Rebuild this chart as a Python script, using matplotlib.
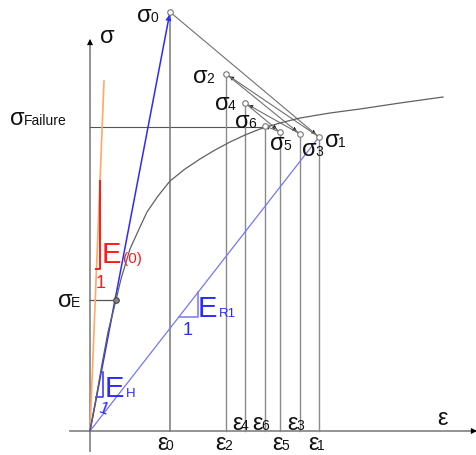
import matplotlib
matplotlib.use('Agg')
import matplotlib.pyplot as plt

plt.rcParams['font.family'] = ['Liberation Sans', 'DejaVu Sans']

# ---- data (strain / stress in drawing units, origin at 0,0) ----
eps0, sig0 = 8.0, 41.9                       # peak loading point sigma0 / eps0
# relaxation / reloading points sigma1 .. sigma6
relax_eps = [22.9, 13.6, 21.0, 15.5, 19.0, 17.5]
relax_sig = [29.4, 35.7, 29.7, 32.8, 29.9, 30.5]
relax_names = ['1', '2', '3', '4', '5', '6']

sigE_eps, sigE_sig = 2.6, 13.1               # elastic limit sigma_E
sig_failure = 30.4                           # failure stress level
E0_eps, E0_sig = 1.4, 35.0                   # tip of the initial-modulus line E(0)

# stress-strain curve
curve_eps = [0, 0.6, 1.2, 1.8, 2.6, 3.1, 4.0, 5.0, 5.7, 6.8, 8.0, 9.5, 11.0,
             12.5, 14.0, 15.5, 17.0, 19.0, 21.0, 24.0, 27.0, 31.0, 35.3]
curve_sig = [0, 3.2, 6.7, 9.9, 13.1, 15.2, 18.2, 20.4, 21.9, 23.5, 25.0, 26.2,
             27.2, 28.1, 28.9, 29.6, 30.2, 30.8, 31.3, 31.8, 32.2, 32.8, 33.4]

GRAY = '#8a8a8a'
DARK = '#555555'
BLUE = '#2b2bff'
LBLUE = '#7575ff'
ORANGE = '#ffa868'
RED = '#ff1a1a'

fig = plt.figure(figsize=(4.77, 4.56), dpi=100)
ax = fig.add_axes([0, 0, 1, 1])
ax.set_xlim(-9.0, 38.7)
ax.set_ylim(-2.4, 43.2)
ax.axis('off')
renderer = fig.canvas.get_renderer()


def label(x, y, main, sub, size=17, subsize=10, color='#111111', gap=-1.5):
    t = ax.text(x, y, main, fontsize=size, color=color, ha='left', va='baseline')
    bb = t.get_window_extent(renderer)
    yd = ax.transData.transform((x, y))[1]
    ax.annotate(sub, xy=(bb.x1 + gap, yd), xycoords='figure pixels',
                fontsize=subsize, color=color, ha='left', va='baseline')


def arrowhead(x0, y0, x1, y1, color='black', ms=9, shrink=2.5):
    ax.annotate('', xy=(x1, y1), xytext=(x0, y0),
                arrowprops=dict(arrowstyle='-|>', color=color, lw=0.01,
                                mutation_scale=ms, shrinkA=0, shrinkB=shrink))


# axes
ax.plot([-2.0, 38.5], [0, 0], color=GRAY, lw=1.3, zorder=2)
ax.plot([0, 0], [-2.0, 39.0], color=GRAY, lw=1.3, zorder=2)
arrowhead(37.0, 0, 38.7, 0, ms=11, shrink=0)
arrowhead(0, 37.5, 0, 39.2, ms=11, shrink=0)

# failure stress line
ax.plot([0, relax_eps[5]], [sig_failure, sig_failure], color=DARK, lw=0.8, zorder=2)

# vertical strain lines
ax.plot([eps0, eps0], [0, sig0], color='#777777', lw=1.1, zorder=2)
for e, s in zip(relax_eps, relax_sig):
    ax.plot([e, e], [0, s], color=GRAY, lw=1.0, zorder=2)

# sigma_E marker line
ax.plot([0, sigE_eps], [sigE_sig, sigE_sig], color=DARK, lw=0.9, zorder=3)

# initial modulus E(0)
ax.plot([0, E0_eps], [0, E0_sig], color=ORANGE, lw=1.2, zorder=3)
m0 = E0_sig / E0_eps
a, d = 0.65, 0.35
ax.plot([a, a + d, a + d], [m0 * a, m0 * a, m0 * (a + d)], color=RED, lw=1.4, zorder=4)

# loading line to sigma0
ax.plot([0, eps0], [0, sig0], color=BLUE, lw=1.1, zorder=3)
arrowhead(eps0 * 0.9, sig0 * 0.9, eps0, sig0, color=BLUE, ms=11, shrink=2)
mH = sig0 / eps0
a, d = 0.65, 0.65
ax.plot([a, a + d, a + d], [mH * a, mH * a, mH * (a + d) - 0.9], color=BLUE, lw=1.1, zorder=4)

# secant modulus E_R1
ax.plot([0, relax_eps[0]], [0, relax_sig[0]], color=LBLUE, lw=0.9, zorder=3)
mR = relax_sig[0] / relax_eps[0]
a, d = 8.88, 1.92
ax.plot([a, a + d, a + d], [mR * a, mR * a, mR * (a + d)], color=LBLUE, lw=1.1, zorder=4)

# stress-strain curve
ax.plot(curve_eps, curve_sig, color='#606060', lw=0.9, zorder=5)

# relaxation / reloading path sigma0 -> sigma1 -> ... -> sigma6
path_e = [eps0] + relax_eps
path_s = [sig0] + relax_sig
for i in range(len(path_e) - 1):
    x0, y0, x1, y1 = path_e[i], path_s[i], path_e[i + 1], path_s[i + 1]
    ax.plot([x0, x1], [y0, y1], color='#707070', lw=0.8, zorder=4)
    xm, ym = x0 + (x1 - x0) * 0.8, y0 + (y1 - y0) * 0.8
    arrowhead(xm, ym, x1, y1, ms=8, shrink=3)

# point markers
ax.plot(path_e, path_s, 'o', ms=4, mfc='white', mec='#777777', mew=0.8, zorder=6)
ax.plot([sigE_eps], [sigE_sig], 'o', ms=4, mfc='#888888', mec='#444444', mew=0.8, zorder=6)

# axis titles
ax.text(1.0, 38.9, 'σ', fontsize=17, color='#111111', ha='left', va='baseline')
ax.text(34.7, 0.7, 'ε', fontsize=17, color='#111111', ha='left', va='baseline')

# stress labels
label(4.7, 41.0, 'σ', '0')
label(10.3, 34.9, 'σ', '2')
label(12.5, 32.2, 'σ', '4')
label(14.5, 30.4, 'σ', '6')
label(18.0, 28.2, 'σ', '5')
label(21.2, 27.6, 'σ', '3')
label(23.5, 28.5, 'σ', '1')
label(-3.2, 12.5, 'σ', 'E')
label(-8.0, 30.7, 'σ', 'Failure', subsize=10, gap=-0.5)

# strain labels
label(6.7, -1.8, 'ε', '0')
label(12.5, -1.8, 'ε', '2')
label(18.2, -1.8, 'ε', '5')
label(21.8, -1.8, 'ε', '1')
label(14.2, 0.2, 'ε', '4')
label(16.2, 0.2, 'ε', '6')
label(19.7, 0.2, 'ε', '3')

# moduli labels
label(1.2, 16.9, 'E', '(0)', size=21, subsize=11, color=RED, gap=1.5)
label(1.5, 3.5, 'E', 'H', size=21, subsize=9.5, color=BLUE, gap=1)
label(10.8, 11.5, 'E', 'R1', size=21, subsize=9.5, color=BLUE, gap=1)
ax.text(0.6, 14.4, '1', fontsize=13, color=RED, ha='left', va='baseline')
ax.text(0.7, 1.7, '1', fontsize=12, color=BLUE, ha='left', va='baseline', rotation=-20)
ax.text(9.3, 9.7, '1', fontsize=13, color=BLUE, ha='left', va='baseline')

fig.savefig('out.png', dpi=100)
